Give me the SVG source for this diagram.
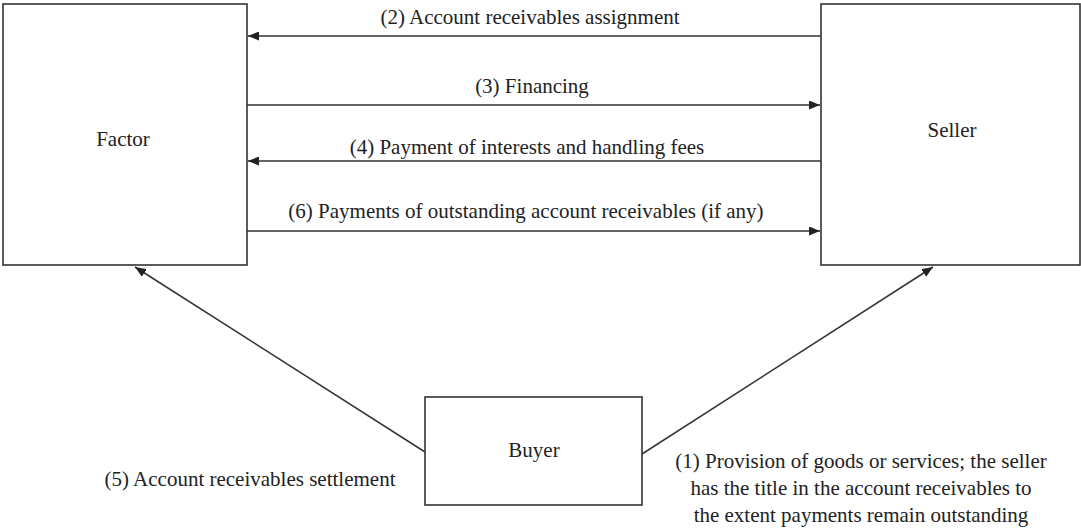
<svg xmlns="http://www.w3.org/2000/svg" width="1081" height="530" viewBox="0 0 1081 530">
<style>
.box{fill:#fff;stroke:#333;stroke-width:1.6}
.lbl{font-family:"Liberation Serif","Times New Roman",serif;font-size:21px;fill:#222;text-anchor:middle}
.edge{stroke:#333;stroke-width:1.5;fill:none;marker-end:url(#ah)}
</style>
<defs>
<marker id="ah" viewBox="0 0 11 9" refX="11" refY="4.5" markerWidth="11" markerHeight="9" markerUnits="userSpaceOnUse" orient="auto">
<path d="M0,0 L11,4.5 L0,9 Z" fill="#222"/>
</marker>
</defs>
<rect width="1081" height="530" fill="#fff"/>
<g id="factor"><rect class="box" x="3" y="4" width="244" height="261"/><text class="lbl" x="123" y="146">Factor</text></g>
<g id="seller"><rect class="box" x="821" y="4" width="259" height="261"/><text class="lbl" x="952" y="137">Seller</text></g>
<g id="buyer"><rect class="box" x="425" y="397" width="217" height="108"/><text class="lbl" x="534" y="457">Buyer</text></g>
<g id="connectors">
<line class="edge" x1="821" y1="36" x2="248" y2="36"/>
<line class="edge" x1="247" y1="105" x2="820" y2="105"/>
<line class="edge" x1="821" y1="161" x2="248" y2="161"/>
<line class="edge" x1="247" y1="231" x2="820" y2="231"/>
<line class="edge" x1="425" y1="452" x2="135" y2="267"/>
<line class="edge" x1="642" y1="454" x2="933" y2="267"/>
<text class="lbl" x="530" y="24">(2) Account receivables assignment</text>
<text class="lbl" x="532" y="93">(3) Financing</text>
<text class="lbl" x="527" y="154">(4) Payment of interests and handling fees</text>
<text class="lbl" x="526" y="218">(6) Payments of outstanding account receivables (if any)</text>
<text class="lbl" x="250" y="486">(5) Account receivables settlement</text>
<text class="lbl" x="861" y="468">(1) Provision of goods or services; the seller</text>
<text class="lbl" x="861" y="495">has the title in the account receivables to</text>
<text class="lbl" x="861" y="522">the extent payments remain outstanding</text>
</g>
</svg>
